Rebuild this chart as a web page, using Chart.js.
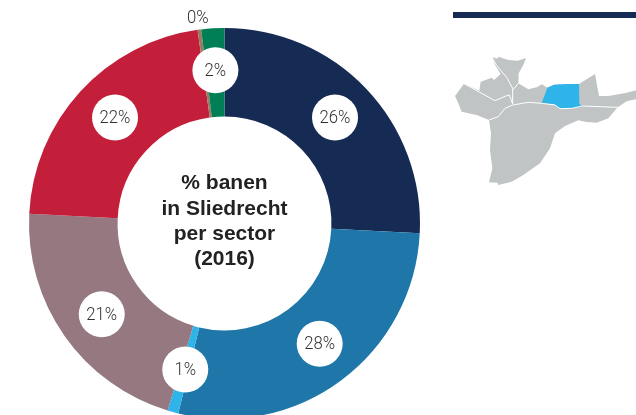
<!DOCTYPE html>
<html><head><meta charset="utf-8">
<style>
html,body{margin:0;padding:0;background:#fff;width:636px;height:415px;overflow:hidden}
#wrap{position:absolute;left:0;top:0;width:449px;height:447px}
#rule{position:absolute;left:453px;top:12px;width:183px;height:6px;background:#162b54}
#map{position:absolute;left:440px;top:0}
</style>
<script src="https://cdn.jsdelivr.net/npm/chart.js@4"></script>
</head><body>
<div id="wrap"><canvas id="c" width="449" height="447"></canvas></div>
<div id="rule"></div>
<svg id="map" width="196" height="200" viewBox="0 0 588 600">
<polygon fill="#c1c4c5" points="156,171 172,176 175,170 205,180 232,182 258,174 250,195 236,220 235,250 265,268 290,262 306,253 322,263 342,254 380,252 417,252 465,222 477,288 505,288 560,278 588,271 588,298 560,304 533,322 505,355 470,368 440,366 415,361 375,378 345,400 330,445 300,490 250,525 215,545 175,555 172,548 147,547 157,505 150,450 153,400 147,360 110,345 65,335 55,310 45,288 72,251 118,272 122,245 155,233 162,240 182,222 165,195"/>
<polygon fill="#2fb4e9" points="322,263 342,254 380,252 417,252 418,312 428,320 395,325 360,326 340,312 305,310"/>
<g fill="none" stroke="#fff" stroke-width="3">
<polyline points="156,171 170,197 200,232 218,265 218,312"/>
<polyline points="235,250 218,270"/>
<polyline points="72,251 165,302 200,287 208,285 218,312"/>
<polyline points="147,360 175,350 195,325 218,315 265,307 305,310 345,315 360,326 395,325 428,318 533,322"/>
</g>
</svg>
<script>
const categories = ["Sector 1","Sector 2","Sector 3","Sector 4","Sector 5","Sector 6","Sector 7"];
const shares = [25.8, 28.0, 0.9, 21.1, 22.0, 0.3, 1.9];
const shareLabels = ["26%","28%","1%","21%","22%","0%","2%"];
const colors = ["#162b54","#1f77a9","#2fb4e9","#957880","#c41f3a","#9a7a62","#007f56"];
const centerLines = ["% banen","in Sliedrecht","per sector","(2016)"];
const labelNudgeX = [0,4,1,2,3,0,0];
const labelNudgeY = [-1,-2,-1,3,-3,0,-1];

const labelFont = '300 19px Roboto,"Liberation Sans",sans-serif';
const overlay = {
  id:"overlay",
  afterDatasetsDraw(chart){
    const g = chart.ctx, arcs = chart.getDatasetMeta(0).data;
    arcs.forEach((a,i)=>{
      const mid = (a.startAngle+a.endAngle)/2;
      const out = shareLabels[i]==="0%";
      const r = out ? a.outerRadius+12 : 152.5;
      const x = a.x+Math.cos(mid)*r+labelNudgeX[i], y = a.y+Math.sin(mid)*r+labelNudgeY[i];
      g.save();
      if(!out){ g.fillStyle="#fff"; g.beginPath(); g.arc(x,y,23,0,Math.PI*2); g.fill(); }
      g.fillStyle = "#333";
      g.font = labelFont; g.textAlign="center"; g.textBaseline="middle";
      g.translate(x,y+1); g.scale(0.88,1);
      g.fillText(shareLabels[i],0,0);
      g.restore();
    });
    const p = arcs[0];
    g.save();
    g.fillStyle="#222"; g.font='bold 21px "Liberation Sans",Arial,sans-serif';
    g.textAlign="center"; g.textBaseline="middle";
    centerLines.forEach((t,i)=>g.fillText(t,p.x,p.y-40+i*25.3));
    g.restore();
  }
};
new Chart(document.getElementById("c"),{
  type:"doughnut",
  data:{labels:categories,datasets:[{data:shares,backgroundColor:colors,borderWidth:0,radius:195.5,cutout:"54.7%"}]},
  options:{responsive:false,animation:false,events:[],
    layout:{padding:0},
    plugins:{legend:{display:false},tooltip:{enabled:false}}},
  plugins:[overlay]
});
</script>
</body></html>
